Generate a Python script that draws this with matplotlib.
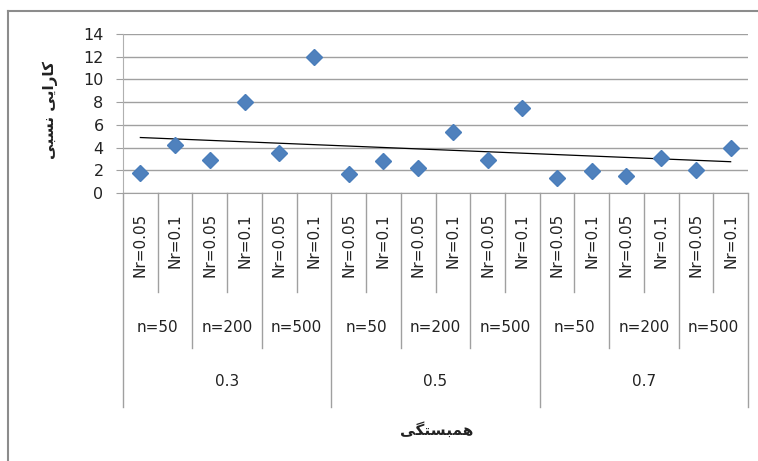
import numpy as np
import matplotlib
matplotlib.use("Agg")
import matplotlib.pyplot as plt
from matplotlib.lines import Line2D
import matplotlib.transforms as mtransforms

plt.rcParams['font.family'] = ['DejaVu Sans']
plt.rcParams['font.size'] = 10.5

# three-level category axis: correlation / sample size / Nr
corr_labels = ["0.3", "0.5", "0.7"]
n_labels = ["n=50", "n=200", "n=500"]
nr_labels = ["Nr=0.05", "Nr=0.1"]

efficiency = [1.8, 4.2, 2.9, 8.0, 3.5, 12.0,
              1.7, 2.85, 2.2, 5.4, 2.9, 7.5,
              1.3, 1.9, 1.5, 3.1, 2.0, 4.0]

# Persian labels, already in presentation forms and visual order
# (matplotlib does no arabic shaping of its own)
def shape_rtl(forms):
    return "".join(chr(c) for c in forms)[::-1]

ylabel_text = shape_rtl([0xFB90, 0xFE8E, 0xFEAD, 0xFE8D, 0xFBFE, 0xFBFD, 0x20,
                         0xFEE7, 0xFEB4, 0xFE92, 0xFBFD])   # کارایی نسبی
xlabel_text = shape_rtl([0xFEEB, 0xFEE4, 0xFE92, 0xFEB4, 0xFE98, 0xFB95, 0xFBFD])  # همبستگی

W, H = 758, 461
fig = plt.figure(figsize=(W / 100, H / 100), dpi=100)
ax = fig.add_axes([123 / W, 1 - 193 / H, (748 - 123) / W, (193 - 34) / H])

n_cat = len(efficiency)
x = np.arange(n_cat) + 0.5
ax.plot(x, efficiency, linestyle='none', marker='D', markersize=8,
        color='#4F81BD', markeredgecolor='#4A7EBB', zorder=3)

# linear trendline over the category index
coef = np.polyfit(np.arange(1, n_cat + 1), efficiency, 1)
trend = np.polyval(coef, np.arange(1, n_cat + 1))
ax.plot(x, trend, color='black', linewidth=0.9, zorder=2)

ax.set_xlim(0, n_cat)
ax.set_ylim(0, 14)
ax.set_yticks(np.arange(0, 15, 2))
ax.yaxis.grid(True, color='#a0a0a0', linewidth=1.0)
ax.set_axisbelow(True)
ax.set_xticks([])
for side in ['top', 'right']:
    ax.spines[side].set_visible(False)
ax.spines['left'].set_color('#b0b0b0')
ax.spines['bottom'].set_color('#a0a0a0')
ax.tick_params(axis='y', length=5, pad=9, color='#a0a0a0', labelsize=11.5,
               labelcolor='#222222')

# category axis drawn below the plot
trans = mtransforms.blended_transform_factory(ax.transData, ax.transAxes)
axh = 193 - 34
y_nr = -(292 - 193) / axh
y_n = -(348 - 193) / axh
y_corr = -(407 - 193) / axh
for b in range(n_cat + 1):
    if b % 6 == 0:
        y_end = y_corr
    elif b % 2 == 0:
        y_end = y_n
    else:
        y_end = y_nr
    ax.add_line(Line2D([b, b], [0, y_end], transform=trans, color='#a0a0a0',
                       linewidth=1.0, clip_on=False))

for i in range(n_cat):
    ax.text(i + 0.5, -20 / axh, nr_labels[i % 2], transform=trans, rotation=90,
            ha='center', va='top', fontsize=11, color='#222222')
for j in range(n_cat // 2):
    ax.text(2 * j + 1, -(327 - 193) / axh, n_labels[j % 3], transform=trans,
            ha='center', va='center', fontsize=11, color='#222222')
for k in range(3):
    ax.text(6 * k + 3, -(382 - 193) / axh, corr_labels[k], transform=trans,
            ha='center', va='center', fontsize=11, color='#222222')

fig.text(50 / W, 1 - 110 / H, ylabel_text, rotation=90, ha='center', va='center',
         fontsize=11, fontweight='bold', color='#222222')
fig.text(437 / W, 1 - 430 / H, xlabel_text, ha='center', va='center',
         fontsize=11, fontweight='bold', color='#222222')

# chart area frame
frame_kw = dict(transform=fig.transFigure, color='#8c8c8c', linewidth=1.5)
fig.add_artist(Line2D([8 / W, 8 / W], [0, 1 - 11 / H], **frame_kw))
fig.add_artist(Line2D([8 / W, 1], [1 - 11 / H, 1 - 11 / H], **frame_kw))

fig.savefig("out.png", dpi=100)
